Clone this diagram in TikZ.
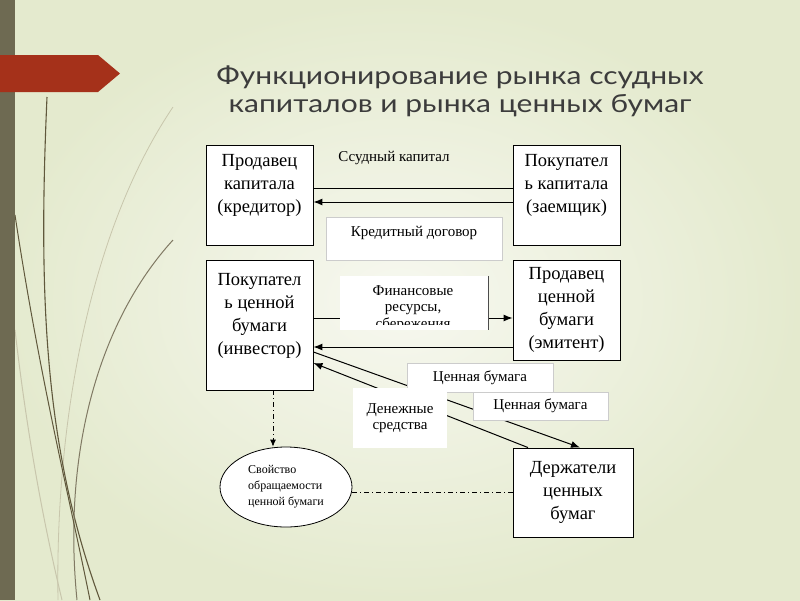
\documentclass[tikz,border=0pt]{standalone}
\usepackage{fontspec}
\setmainfont{Liberation Serif}
\newfontfamily\titlefont[FakeStretch=1.2]{Lato}
\usepackage{tikz}
\usetikzlibrary{arrows.meta,shapes.geometric,calc}

\definecolor{slidebar}{RGB}{110,106,82}
\definecolor{banner}{RGB}{165,49,26}
\definecolor{grass}{RGB}{96,88,60}
\definecolor{grasslight}{RGB}{200,198,172}
\definecolor{bgin}{RGB}{247,248,240}
\definecolor{bgout}{RGB}{228,234,206}
\definecolor{titlegray}{RGB}{60,60,60}

\tikzset{
  party/.style={draw, line width=0.9pt, fill=white, align=center, inner sep=0pt, minimum width=107pt, font=\fontsize{18.5}{23}\selectfont},
  tag/.style={fill=white, align=center, inner sep=0pt, font=\fontsize{15}{16.5}\selectfont},
  flow/.style={line width=1pt, -{Latex[length=9pt,width=7pt]}},
  link/.style={line width=0.8pt, dash pattern=on 5pt off 3pt on 1pt off 3pt}
}

\begin{document}
\begin{tikzpicture}[x=1pt,y=1pt,yscale=-1,xscale=1]
        % slide background
        \shade[inner color=bgin, outer color=bgout] (0,0) rectangle (800,600);
        \useasboundingbox (0,0) rectangle (800,600);
        \draw[grasslight, line width=0.8pt] (173,107) .. controls (90,230) and (55,420) .. (58,600);
        \draw[grasslight, line width=1pt] (15,330) .. controls (30,460) and (50,550) .. (62,600);
        \draw[grass, line width=1.1pt] (47,97) .. controls (38,300) and (45,450) .. (100,600);
        \draw[grass!80, line width=1pt] (173,240) .. controls (100,320) and (62,450) .. (77,600);
        \draw[grass, line width=1pt] (15,215) .. controls (40,380) and (70,500) .. (90,600);
        \fill[slidebar] (0,0) rectangle (15,600);
        \fill[banner] (0,55) -- (98,55) -- (120,73.5) -- (98,92) -- (0,92) -- cycle;

        % title
        \node[font=\titlefont\fontsize{25}{28}\selectfont, text=titlegray, align=center] (title) at (460,91) {Функционирование рынка ссудных\\капиталов и рынка ценных бумаг};

        % market participants
        \node[party, minimum height=100pt] (seller) at (259.5,195) {Продавец\\капитала\\(кредитор)\\ \mbox{}};
        \node[party, minimum height=100pt] (borrower) at (566.5,195) {Покупател\\ь капитала\\(заемщик)\\ \mbox{}};
        \node[party, minimum height=130pt] (investor) at (259.5,325) {Покупател\\ь ценной\\бумаги\\(инвестор)\\ \mbox{}};
        \node[party, minimum height=100pt] (issuer) at (566.5,310) {Продавец\\ценной\\бумаги\\(эмитент)};
        \node[party, minimum width=120pt, minimum height=89pt] (holders) at (573,492.5) {Держатели\\ценных\\бумаг};
        \node[draw, ellipse, line width=0.8pt, fill=white, minimum width=132pt, minimum height=80pt, inner sep=0pt, align=left, font=\fontsize{12}{16}\selectfont] (oval) at (286,487) {Свойство\\обращаемости\\ценной бумаги};

        % flow end points
        \coordinate (loanup) at ($(seller.east)+(0,-7)$);
        \coordinate (loandown) at ($(borrower.west)+(0,7)$);
        \coordinate (fundsout) at ($(investor.east)+(0,-7)$);
        \coordinate (paperout) at ($(issuer.west)+(0,37)$);
        \coordinate (buyout) at ($(investor.east)+(0,27)$);
        \coordinate (buyin) at ($(investor.east)+(0,38)$);
        \coordinate (holdin) at ($(holders.north)+(7,0)$);
        \coordinate (holdout) at ($(holders.north)+(-45,0)$);
        \coordinate (turnover) at ($(investor.south)+(13.5,0)$);

        % flows
        \draw[line width=1pt] (loanup) -- (loanup -| borrower.west);
        \draw[flow] (loandown) -- (loandown -| seller.east);
        \draw[flow] (fundsout) -- (fundsout -| issuer.west);
        \draw[flow] (paperout) -- (paperout -| investor.east);
        \draw[flow] (buyout) -- (holdin);
        \draw[flow] (holdout) -- (buyin);
        \draw[link, -{Latex[length=7pt,width=6pt]}] (turnover) -- (turnover |- oval.north);
        \draw[link] (holders.west) -- (holders.west -| oval.east);

        % captions over the flows
        \node[font=\fontsize{15}{17}\selectfont] (loan) at (394,158) {Ссудный капитал};
        \node[tag, draw=gray!40, minimum width=176pt, minimum height=43pt, text depth=14pt] (contract) at (414,238.5) {Кредитный договор};
        \node[tag, minimum width=148pt, minimum height=54pt] (finance) at (414,303) {};
        \draw[line width=0.8pt, gray!60!black] (finance.north east) -- (finance.south east);
        \begin{scope}
            \clip (finance.north west) rectangle ($(finance.south east)+(0,-6)$);
            \node[tag, fill=none, anchor=north] (financetext) at (413,285) {Финансовые\\ресурсы,\\сбережения};
        \end{scope}
        \node[tag, draw=gray!40, minimum width=146pt, minimum height=29pt] (paper1) at (480,377.5) {Ценная бумага};
        \node[tag, draw=gray!40, minimum width=135pt, minimum height=28pt] (paper2) at (540.5,406) {Ценная бумага};
        \node[tag, minimum width=94pt, minimum height=60pt] (money) at (400,418) {Денежные\\средства};
    \end{tikzpicture}
\end{document}
